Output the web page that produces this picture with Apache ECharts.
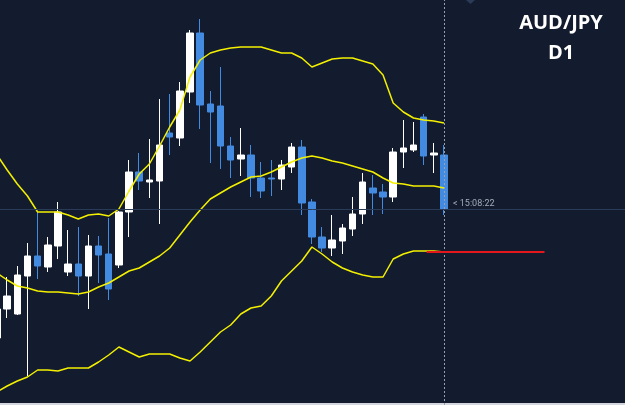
<!DOCTYPE html>
<html>
<head>
<meta charset="utf-8">
<title>AUD/JPY D1</title>
<style>
  html, body { margin: 0; padding: 0; background: #131c2e; overflow: hidden; }
  #chart { width: 625px; height: 405px; }
</style>
</head>
<body>
<div id="chart"></div>
<script src="https://cdn.jsdelivr.net/npm/echarts@6/dist/echarts.min.js"></script>
<script>
// K线 开/收/低/高
var opens  = [67, 96, 91, 129, 149, 138, 159, 133, 141, 129, 159, 151, 140, 193, 233, 223, 224, 272, 267, 313, 372, 301, 299, 259, 246, 250, 227, 227, 226, 238, 258, 203, 168, 157, 164, 176, 191, 217, 213, 208, 253, 255, 288, 250, 250];
var closes = [96, 109, 130, 149, 139, 160, 193, 141, 129, 159, 150, 116, 193, 233, 224, 225, 260, 268, 314, 372, 300, 293, 259, 245, 250, 227, 214, 226, 240, 258, 202, 168, 157, 165, 177, 191, 223, 212, 208, 253, 257, 260, 249, 252, 196];
var lows   = [60, 87, 90, 29, 126, 133, 146, 129, 109, 96, 122, 105, 137, 168, 215, 207, 181, 250, 259, 302, 276, 242, 236, 227, 229, 208, 207, 209, 215, 232, 190, 161, 153, 149, 151, 169, 181, 190, 191, 203, 237, 253, 240, 232, 190];
var highs  = [103, 128, 139, 162, 193, 168, 203, 175, 178, 170, 169, 187, 194, 245, 252, 266, 306, 311, 323, 375, 386, 314, 338, 268, 277, 260, 243, 245, 245, 262, 265, 206, 178, 190, 181, 208, 232, 230, 221, 257, 285, 283, 291, 262, 260];

// 布林带 上/中/下轨
var bollUpper = [250, 235, 221, 209, 193, 193, 193, 190, 186, 190, 191, 189, 196, 214, 231, 241, 259, 278, 295, 328, 345, 352, 355, 357, 358, 358, 358, 355, 352, 352, 347, 338, 342, 346, 347, 347, 344, 341, 330, 302, 293, 287, 285, 284, 282];
var bollMid   = [132, 125, 119, 117, 114, 113, 113, 112, 111, 113, 118, 122, 128, 134, 137, 143, 149, 157, 170, 183, 195, 206, 212, 218, 223, 228, 229, 233, 238, 243, 247, 249, 247, 244, 242, 239, 236, 233, 227, 222, 221, 219, 219, 219, 217];
var bollLower = [13, 19, 24, 28, 35, 35, 34, 37, 37, 37, 43, 50, 58, 53, 48, 51, 51, 51, 47, 44, 53, 63, 73, 80, 91, 97, 99, 109, 124, 134, 144, 158, 151, 143, 137, 133, 130, 128, 128, 146, 151, 154, 154, 154, 153];

// 红色水平线
var redLevel = 153;
var redFrom = 42.3;
var redTo = 53.9;

var titleLines = ['AUD/JPY', 'D1'];
var timerText = '< 15:08:22';

// 组装K线数据 [序号, 开, 收, 低, 高]
function buildKData() {
  var list = [];
  for (var i = 0; i < opens.length; i++) {
    list.push([i, opens[i], closes[i], lows[i], highs[i]]);
  }
  return list;
}
function buildLine(arr) {
  return arr.map(function (v, i) { return [i, v]; });
}
function bollSeries(name, arr) {
  return {
    name: name,
    type: 'line',
    data: buildLine(arr),
    symbol: 'none',
    z: 3,
    lineStyle: { color: '#f4f000', width: 1.5 }
  };
}

function setKlineEcharts(eleName) {
  var dom = document.querySelector(eleName);
  var myChart = echarts.init(dom);
  var lastIdx = closes.length - 1;
  var option = {
    backgroundColor: '#131c2e',
    animation: false,
    grid: { left: 0, right: 0, top: 0, bottom: 0 },
    xAxis: {
      type: 'value',
      min: 0.295,
      max: 61.82,
      show: false
    },
    yAxis: {
      type: 'value',
      min: 0,
      max: 405,
      show: false
    },
    series: [
      {
        type: 'candlestick',
        data: buildKData(),
        encode: { x: 0, y: [1, 2, 3, 4] },
        barWidth: 7,
        z: 2,
        itemStyle: {
          color: '#ffffff',
          color0: '#428be0',
          borderColor: '#ffffff',
          borderColor0: '#428be0',
          borderWidth: 1
        },
        markLine: {
          silent: true,
          symbol: 'none',
          label: { show: false },
          data: [
            { yAxis: closes[lastIdx], lineStyle: { color: '#2a3b57', width: 1, type: 'solid' } },
            { xAxis: lastIdx, lineStyle: { color: '#9aa1ae', width: 1, type: [2, 2] } }
          ]
        }
      },
      bollSeries('upper', bollUpper),
      bollSeries('mid', bollMid),
      bollSeries('lower', bollLower),
      {
        type: 'line',
        data: [],
        z: 4,
        markLine: {
          silent: true,
          symbol: 'none',
          label: { show: false },
          lineStyle: { color: '#e3171c', width: 2, type: 'solid' },
          data: [[{ coord: [redFrom, redLevel] }, { coord: [redTo, redLevel] }]]
        }
      }
    ],
    graphic: [
      {
        type: 'text',
        x: 561,
        y: 13,
        style: {
          text: titleLines[0],
          fill: '#ffffff',
          font: 'bold 20px "Open Sans", sans-serif',
          align: 'center'
        }
      },
      {
        type: 'text',
        x: 561,
        y: 43,
        style: {
          text: titleLines[1],
          fill: '#ffffff',
          font: 'bold 20px "Open Sans", sans-serif',
          align: 'center'
        }
      },
      {
        type: 'text',
        left: 453,
        top: 199,
        style: {
          text: timerText,
          fill: '#a3abb9',
          font: '9px Roboto, sans-serif'
        }
      },
      {
        type: 'polygon',
        shape: { points: [[466, 0], [475, 0], [470.5, 4]] },
        style: { fill: '#2a3a57' }
      },
      {
        type: 'rect',
        shape: { x: 0, y: 403, width: 625, height: 2 },
        style: { fill: '#d3d6dc' }
      }
    ]
  };
  myChart.setOption(option, true);
}
setKlineEcharts('#chart');
</script>
</body>
</html>
